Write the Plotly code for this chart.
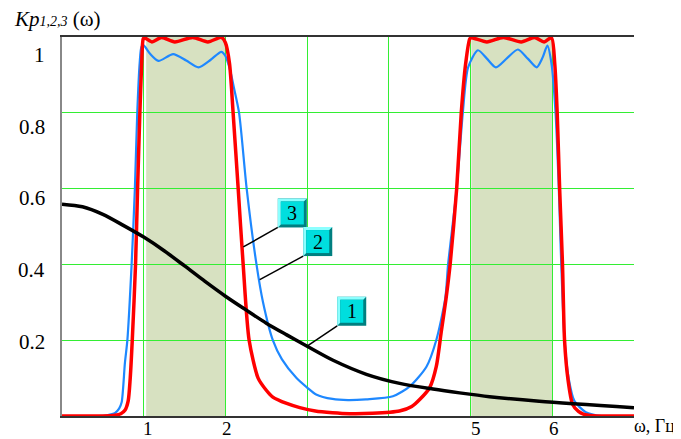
import plotly.graph_objects as go

# ---------------- data ----------------
omega_red = [0.0, 0.5, 0.65, 0.72, 0.77, 0.81, 0.835, 0.86, 0.90, 0.925, 0.953, 0.975, 0.994,
             1.01, 1.10, 1.22, 1.38, 1.60, 1.785, 1.95, 2.0, 2.05, 2.094, 2.156, 2.217, 2.29,
             2.40, 2.50, 2.58, 2.75, 2.91, 3.1, 3.31, 3.52, 3.8, 4.13, 4.28, 4.38, 4.50, 4.58,
             4.64, 4.70, 4.75, 4.83, 4.886, 4.94, 4.99, 5.01, 5.20, 5.40, 5.62, 5.78, 5.90, 5.99,
             6.03, 6.06, 6.09, 6.125, 6.15, 6.19, 6.25, 6.32, 6.38, 6.5, 7.0]
k_red = [0.0, 0.0, 0.002, 0.006, 0.015, 0.04, 0.10, 0.2, 0.4, 0.6, 0.8, 0.93, 0.995,
         0.998, 0.987, 0.999, 0.987, 0.999, 0.987, 0.999, 0.985, 0.93, 0.8, 0.6, 0.4, 0.2,
         0.1, 0.068, 0.05, 0.033, 0.022, 0.013, 0.0085, 0.006, 0.007, 0.013, 0.025, 0.044, 0.075, 0.13,
         0.22, 0.31, 0.4, 0.6, 0.8, 0.93, 0.995, 0.998, 0.987, 0.999, 0.987, 0.999, 0.987, 0.998,
         0.93, 0.8, 0.6, 0.4, 0.2, 0.1, 0.03, 0.012, 0.005, 0.001, 0.0]

omega_blue = [0.0, 0.45, 0.55, 0.65, 0.70, 0.73, 0.77, 0.80, 0.852, 0.892, 0.921, 0.95, 0.974,
              1.0, 1.08, 1.18, 1.36, 1.52, 1.67, 1.82, 1.95, 2.0, 2.06, 2.10, 2.167, 2.26, 2.38,
              2.46, 2.58, 2.69, 2.87, 3.0, 3.11, 3.31, 3.5, 3.72, 4.05, 4.26, 4.46, 4.58, 4.69,
              4.725, 4.83, 4.905, 4.97, 5.09, 5.20, 5.31, 5.45, 5.58, 5.70, 5.81, 5.88, 5.94, 5.99,
              6.04, 6.08, 6.11, 6.15, 6.2, 6.27, 6.41, 6.6, 7.0]
k_blue = [0.0, 0.0, 0.002, 0.008, 0.02, 0.036, 0.14, 0.2, 0.4, 0.6, 0.8, 0.93, 0.975,
          0.978, 0.955, 0.937, 0.955, 0.938, 0.92, 0.94, 0.961, 0.95, 0.91, 0.87, 0.8, 0.6, 0.4,
          0.3, 0.2, 0.15, 0.1, 0.075, 0.057, 0.045, 0.042, 0.044, 0.052, 0.079, 0.13, 0.2, 0.31,
          0.4, 0.6, 0.8, 0.92, 0.965, 0.943, 0.92, 0.945, 0.967, 0.943, 0.92, 0.945, 0.977, 0.93,
          0.8, 0.6, 0.4, 0.2, 0.1, 0.04, 0.01, 0.0, 0.0]

omega_black = [0.0, 0.25, 0.5, 0.75, 1.0, 1.25, 1.5, 1.75, 2.0, 2.25, 2.5, 2.75,
               3.0, 3.317, 3.725, 4.132, 4.54, 4.866, 5.232, 5.84, 7.0]
k_black = [0.559, 0.552, 0.532, 0.503, 0.472, 0.436, 0.396, 0.355, 0.316, 0.28, 0.245, 0.214,
           0.184, 0.147, 0.11, 0.086, 0.071, 0.061, 0.051, 0.039, 0.022]

passbands = [(1.03, 2.0), (5.01, 6.0)]

x_tick_labels = ["1", "2", "5", "6"]
y_tick_labels = ["1", "0.8", "0.6", "0.4", "0.2"]

# callout labels: (text, omega on curve, K on curve)
callouts = [("3", 2.219, 0.446), ("2", 2.42, 0.36), ("1", 2.995, 0.184)]

# ---------------- layout geometry ----------------
OFF = 8                      # default page body margin of the written html
W, H = 681, 439              # window size
L, R, T, B = 62, 634, 37, 416   # plot area in window pixels
FONT = "Liberation Serif, Times New Roman, serif"

def px2paper_x(px):
    return (px - L) / (R - L)

def px2paper_y(py):
    return (B - py) / (B - T)

fig = go.Figure()
fig.add_trace(go.Scatter(x=omega_blue, y=k_blue, mode="lines",
                         line=dict(color="#1e88ff", width=2.2, shape="spline", smoothing=0.7),
                         hoverinfo="skip", showlegend=False))
fig.add_trace(go.Scatter(x=omega_red, y=k_red, mode="lines",
                         line=dict(color="#ff0000", width=3.5, shape="spline", smoothing=0.7),
                         hoverinfo="skip", showlegend=False))
fig.add_trace(go.Scatter(x=omega_black, y=k_black, mode="lines",
                         line=dict(color="#000000", width=3.5, shape="spline", smoothing=0.8),
                         hoverinfo="skip", showlegend=False))

shapes = []
for x0, x1 in passbands:
    shapes.append(dict(type="rect", xref="x", yref="y", x0=x0, x1=x1, y0=0, y1=1,
                       fillcolor="#d7e1c1", line=dict(width=0), layer="below"))

# callout boxes (pixel offsets from the curve point, y up)
offsets = {"3": (49, 34), "2": (58, 38), "1": (45, 35)}
hs, bv = 14.5, 3
for txt, xo, yo in callouts:
    dx, dy = offsets[txt]
    Lb, Rb, Bb, Tb = dx - hs, dx + hs, dy - hs, dy + hs
    common = dict(xref="x", yref="y", xsizemode="pixel", ysizemode="pixel",
                  xanchor=xo, yanchor=yo, layer="above")
    shapes.append(dict(type="line", x0=0, y0=0, x1=Lb, y1=Bb,
                       line=dict(color="black", width=1.5), **common))
    shapes.append(dict(type="path",
                       path=f"M{Lb},{Bb} L{Rb},{Bb} L{Rb},{Tb} L{Lb},{Tb} Z",
                       fillcolor="#007f80", line=dict(width=0), **common))
    shapes.append(dict(type="path",
                       path=(f"M{Lb},{Bb} L{Lb},{Tb} L{Rb},{Tb} L{Rb-bv},{Tb-bv} "
                             f"L{Lb+bv},{Tb-bv} L{Lb+bv},{Bb+bv} Z"),
                       fillcolor="#8cffff", line=dict(width=0), **common))
    shapes.append(dict(type="path",
                       path=f"M{Lb+bv},{Bb+bv} L{Rb-bv},{Bb+bv} L{Rb-bv},{Tb-bv} L{Lb+bv},{Tb-bv} Z",
                       fillcolor="#00dede", line=dict(width=0), **common))

annotations = []
for txt, xo, yo in callouts:
    dx, dy = offsets[txt]
    annotations.append(dict(text=txt, x=xo, y=yo, xref="x", yref="y", xshift=dx, yshift=dy,
                            showarrow=False, font=dict(family=FONT, size=20, color="black"),
                            xanchor="center", yanchor="middle"))

# y tick labels (placed slightly below their grid lines, as in the original)
y_label_px = [55, 127, 198, 270, 342]
for lab, py in zip(y_tick_labels, y_label_px):
    annotations.append(dict(text=lab, x=px2paper_x(47), y=px2paper_y(py), xref="paper", yref="paper",
                            showarrow=False, xanchor="right", yanchor="middle",
                            font=dict(family=FONT, size=21, color="black")))
x_label_px = [148, 227, 476, 554]
for lab, px in zip(x_tick_labels, x_label_px):
    annotations.append(dict(text=lab, x=px2paper_x(px), y=px2paper_y(428), xref="paper", yref="paper",
                            showarrow=False, xanchor="center", yanchor="middle",
                            font=dict(family=FONT, size=19, color="black")))

annotations.append(dict(text="<i>Kp</i><i><span style='font-size:14px'>1,2,3</span></i> (ω)",
                        x=px2paper_x(12), y=px2paper_y(19), xref="paper", yref="paper",
                        showarrow=False, xanchor="left", yanchor="middle",
                        font=dict(family=FONT, size=21, color="black")))
annotations.append(dict(text="ω, Гц", x=px2paper_x(677), y=px2paper_y(426), xref="paper", yref="paper",
                        showarrow=False, xanchor="right", yanchor="middle",
                        font=dict(family=FONT, size=18, color="black")))

fig.update_layout(
    width=W - OFF, height=H - OFF,
    margin=dict(l=L - OFF, r=W - R, t=T - OFF, b=H - B, pad=0),
    paper_bgcolor="white", plot_bgcolor="white",
    shapes=shapes, annotations=annotations,
    showlegend=False,
    xaxis=dict(range=[0, 7], dtick=1, tick0=0, showticklabels=False, ticks="",
               showgrid=True, gridcolor="#33ee33", gridwidth=1, zeroline=False,
               showline=True, mirror=True, linecolor="#333333", linewidth=1.5, fixedrange=True),
    yaxis=dict(range=[0, 1], dtick=0.2, tick0=0, showticklabels=False, ticks="",
               showgrid=True, gridcolor="#33ee33", gridwidth=1, zeroline=False,
               showline=True, mirror=False, linecolor="#888888", linewidth=1.5, fixedrange=True),
)

fig.write_html("out.html", config={"displayModeBar": False})
